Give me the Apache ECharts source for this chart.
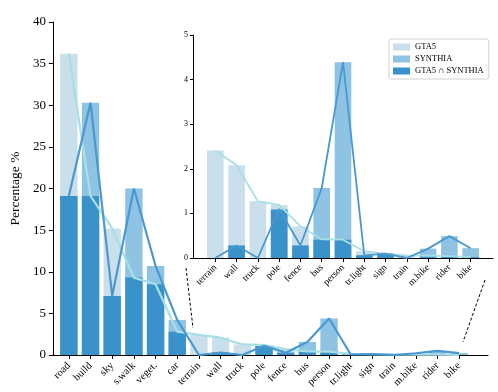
<!DOCTYPE html>
<html>
<head>
<meta charset="utf-8">
<script src="https://cdn.jsdelivr.net/npm/echarts@6/dist/echarts.min.js"></script>
<style>
  html, body { margin: 0; padding: 0; background: #fff; }
  #chart { width: 498px; height: 392px; }
</style>
</head>
<body>
<div id="chart"></div>
<script>
// categories and per-class percentages
const categories = ['road', 'build', 'sky', 's.walk', 'veget.', 'car', 'terrain', 'wall', 'truck', 'pole',
  'fence', 'bus', 'person', 'tr.light', 'sign', 'train', 'm.bike', 'rider', 'bike']
const gta5 = [36.2, 19.1, 15.2, 9.3, 8.5, 2.8, 2.41, 2.08, 1.27, 1.19, 0.71, 0.42, 0.41, 0.15, 0.1, 0.06, 0.05, 0.04, 0.02]
const synthia = [19.1, 30.3, 7.1, 20.0, 10.7, 4.2, 0, 0.28, 0, 1.1, 0.28, 1.57, 4.39, 0.06, 0.1, 0, 0.21, 0.49, 0.22]
const both = [19.1, 19.1, 7.1, 9.3, 8.5, 2.8, 0, 0.28, 0, 1.08, 0.28, 0.41, 0.41, 0.06, 0.1, 0, 0.04, 0.03, 0.02]
const yTicksMain = [0, 40, 5]
const yTicksInset = [0, 5, 1]
const insetFrom = 6

const FONT = "'Liberation Serif', 'DejaVu Serif', serif"
const C_GTA = '#c9dfeb'
const C_SYN = '#8ec3e3'
const C_BOTH = '#3a92cb'
const L_GTA = '#a8dfe5'
const L_SYN = '#4a98cf'

const insetCats = categories.slice(insetFrom)

const frameX = (g) => ({
  type: 'value', gridIndex: g, min: 0, max: 1,
  axisLine: { show: true, lineStyle: { color: '#000', width: 1 } },
  axisTick: { show: false }, axisLabel: { show: false }, splitLine: { show: false },
})
const catX = (g, data, fs, margin) => ({
  type: 'category', gridIndex: g, data: data,
  axisLine: { show: false },
  axisTick: { show: true, alignWithLabel: true, length: 4, lineStyle: { color: '#000' } },
  axisLabel: { rotate: 45, interval: 0, fontSize: fs, fontFamily: FONT, color: '#000', margin: margin },
})
const hiddenY = (g, t) => ({ type: 'value', gridIndex: g, min: t[0], max: t[1], show: false })

const bars = (xi, yi, from, bw) => [
  { name: 'GTA5', data: gta5.slice(from), color: C_GTA },
  { name: 'SYNTHIA', data: synthia.slice(from), color: C_SYN },
  { name: 'GTA5 ∩ SYNTHIA', data: both.slice(from), color: C_BOTH },
].map((s) => ({
  name: s.name, type: 'bar', xAxisIndex: xi, yAxisIndex: yi, data: s.data,
  barWidth: bw, barGap: '-100%', itemStyle: { color: s.color }, silent: true,
}))
const lines = (xi, yi, from, w) => [
  { name: 'GTA5 trend', data: gta5.slice(from), color: L_GTA },
  { name: 'SYNTHIA trend', data: synthia.slice(from), color: L_SYN },
].map((s) => ({
  name: s.name, type: 'line', xAxisIndex: xi, yAxisIndex: yi, data: s.data,
  symbol: 'none', lineStyle: { color: s.color, width: w }, itemStyle: { color: s.color }, z: 3, silent: true,
}))

const chart = echarts.init(document.getElementById('chart'))
chart.setOption({
  animation: false,
  backgroundColor: '#fff',
  textStyle: { fontFamily: FONT },
  grid: [
    { left: 40, right: 10, top: 22, bottom: 37 },
    { left: 58, right: 28, top: 22, bottom: 37 },
    { left: 193, right: 5, top: 35, bottom: 134 },
    { left: 204.7, right: 16.7, top: 35, bottom: 134 },
  ],
  xAxis: [frameX(0), catX(1, categories, 10.5, 9), frameX(2), catX(3, insetCats, 9.5, 8)],
  yAxis: [
    {
      type: 'value', gridIndex: 0, min: yTicksMain[0], max: yTicksMain[1], interval: yTicksMain[2],
      name: 'Percentage %', nameLocation: 'middle', nameGap: 29, nameRotate: 90,
      nameTextStyle: { fontSize: 13.5, fontFamily: FONT, color: '#000' },
      axisLine: { show: true, lineStyle: { color: '#000' } },
      axisTick: { show: true, length: 4, lineStyle: { color: '#000' } },
      axisLabel: { fontSize: 13, fontFamily: FONT, color: '#000', margin: 7 },
      splitLine: { show: false },
    },
    hiddenY(1, yTicksMain),
    {
      type: 'value', gridIndex: 2, min: yTicksInset[0], max: yTicksInset[1], interval: yTicksInset[2],
      axisLine: { show: true, lineStyle: { color: '#000' } },
      axisTick: { show: true, length: 3, lineStyle: { color: '#000' } },
      axisLabel: { fontSize: 8, fontFamily: FONT, color: '#000', margin: 5 },
      splitLine: { show: false },
    },
    hiddenY(3, yTicksInset),
  ],
  legend: {
    data: ['GTA5', 'SYNTHIA', 'GTA5 ∩ SYNTHIA'],
    orient: 'vertical', left: 389, top: 39,
    icon: 'rect', itemWidth: 17, itemHeight: 7, itemGap: 2,
    padding: [3, 5, 3, 4],
    borderColor: '#d0d0d0', borderWidth: 1, borderRadius: 2,
    backgroundColor: '#fff',
    textStyle: { fontSize: 8.5, lineHeight: 10, fontFamily: FONT, color: '#000' },
  },
  graphic: [
    { type: 'line', shape: { x1: 186, y1: 268, x2: 193, y2: 328 }, style: { stroke: '#000', lineWidth: 1, lineDash: [3, 2] } },
    { type: 'line', shape: { x1: 485, y1: 280, x2: 463, y2: 342 }, style: { stroke: '#000', lineWidth: 1, lineDash: [3, 2] } },
  ],
  series: [
    ...bars(1, 1, 0, '80%'),
    ...lines(1, 1, 0, 2.2),
    ...bars(3, 3, insetFrom, '78%'),
    ...lines(3, 3, insetFrom, 1.8),
  ],
})
</script>
</body>
</html>
